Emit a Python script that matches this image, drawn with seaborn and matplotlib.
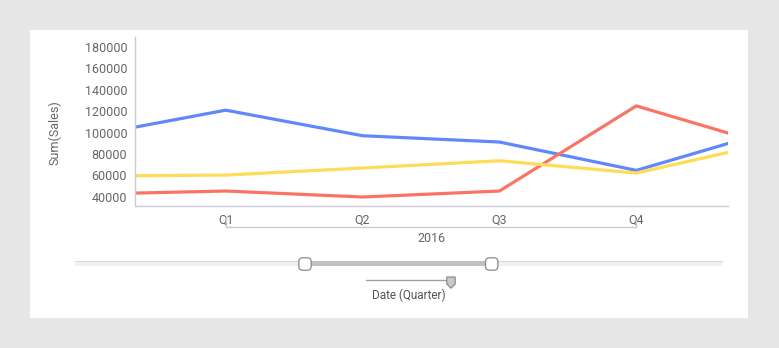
import matplotlib
matplotlib.use("Agg")
import matplotlib.pyplot as plt
import seaborn as sns
import pandas as pd
from matplotlib.patches import Rectangle, FancyBboxPatch, Polygon
from matplotlib.lines import Line2D
from matplotlib.transforms import blended_transform_factory

# ---------------- data ----------------
quarter_pos = [0, 1, 2, 3, 4, 5]          # Q4 2015 .. Q1 2017 (outer two clipped by the view)
tick_pos = [1, 2, 3, 4]
tick_labels = ["Q1", "Q2", "Q3", "Q4"]
year_label = "2016"
series_names = ["Blue", "Red", "Yellow"]
blue_sales = [96900, 120900, 97000, 91100, 64600, 102100]
red_sales = [42400, 45300, 39700, 45300, 124900, 87000]
yellow_sales = [59300, 60200, 66800, 73600, 62100, 90900]
y_ticks = [40000, 60000, 80000, 100000, 120000, 140000, 160000, 180000]
colors = ["#6088fb", "#fa7466", "#fddd55"]

rows = []
for name, vals in zip(series_names, [blue_sales, red_sales, yellow_sales]):
    for p, v in zip(quarter_pos, vals):
        rows.append({"pos": p, "sales": v, "series": name})
df = pd.DataFrame(rows)

# ---------------- figure ----------------
sns.set_theme(style="white")
plt.rcParams["font.family"] = ["Roboto", "DejaVu Sans"]

W, H = 779, 348
fig = plt.figure(figsize=(W / 100, H / 100), dpi=100, facecolor="#e6e6e6")

def fx(px):
    return px / W

def fy(py):
    return 1 - py / H

fig.add_artist(Rectangle((fx(30), fy(318)), fx(748) - fx(30), fy(30) - fy(318),
                         transform=fig.transFigure, facecolor="white",
                         edgecolor="none", zorder=0))

ax = fig.add_axes([fx(134.7), fy(206), fx(728.3) - fx(134.7), fy(37) - fy(206)])
ax.set_facecolor("white")

sns.lineplot(data=df, x="pos", y="sales", hue="series", palette=colors,
             hue_order=series_names, linewidth=2.3, legend=False, ax=ax,
             estimator=None, sort=False)

ax.set_xlim(0.335, 4.672)
ax.set_ylim(31300, 189300)
ax.set_yticks(y_ticks)
ax.set_yticklabels([str(v) for v in y_ticks])
ax.set_xticks(tick_pos)
ax.set_xticklabels(tick_labels)
ax.set_xlabel("")
ax.set_ylabel("")

axis_col = "#c9cbdb"
for s in ["top", "right"]:
    ax.spines[s].set_visible(False)
for s in ["left", "bottom"]:
    ax.spines[s].set_color(axis_col)
    ax.spines[s].set_linewidth(1.0)
ax.tick_params(axis="both", which="major", length=3.2, width=1.0, color=axis_col,
               labelcolor="#666666", labelsize=9, pad=2.2, direction="out")

fig.text(fx(55), fy(133), "Sum(Sales)", rotation=90, ha="center", va="center",
         fontsize=9, color="#666666")

# year bracket under the quarter labels
bt = blended_transform_factory(ax.transData, fig.transFigure)
ax.add_line(Line2D([tick_pos[0], tick_pos[0], tick_pos[-1], tick_pos[-1]],
                   [fy(218), fy(226.7), fy(226.7), fy(220)],
                   transform=bt, color=axis_col, linewidth=1.0, clip_on=False))
ax.text((tick_pos[0] + tick_pos[-1]) / 2, fy(238), year_label, transform=bt,
        ha="center", va="center", fontsize=9, color="#666666")

# ---------------- range slider ----------------
fig.add_artist(Rectangle((fx(75), fy(265.7)), fx(722) - fx(75), fy(261) - fy(265.7),
                         transform=fig.transFigure, facecolor="#eff0f2",
                         edgecolor="none", zorder=2))
fig.add_artist(Line2D([fx(75), fx(722)], [fy(261.3), fy(261.3)],
                      transform=fig.transFigure, color="#d6d6d6", linewidth=0.7, zorder=2))
fig.add_artist(Rectangle((fx(305), fy(265.5)), fx(492) - fx(305), fy(261.2) - fy(265.5),
                         transform=fig.transFigure, facecolor="#c0c0c0",
                         edgecolor="none", zorder=3))
for cx in [305, 491.7]:
    fig.add_artist(FancyBboxPatch((fx(cx - 6.2), fy(270.2)), fx(12.4), fy(0) - fy(12.4),
                                  boxstyle="round,pad=0,rounding_size=0.005",
                                  transform=fig.transFigure, facecolor="white",
                                  edgecolor="#8a8a8a", linewidth=0.9, zorder=4,
                                  mutation_aspect=W / H))

# small level slider
fig.add_artist(Line2D([fx(366), fx(448)], [fy(280.3), fy(280.3)],
                      transform=fig.transFigure, color="#a0a0a0", linewidth=1.0, zorder=2))
mx = 451
fig.add_artist(Polygon([(fx(mx - 4.2), fy(277)), (fx(mx + 4.2), fy(277)),
                        (fx(mx + 4.2), fy(284)), (fx(mx), fy(288.3)),
                        (fx(mx - 4.2), fy(284))], closed=True,
                       transform=fig.transFigure, facecolor="#c8c8c8",
                       edgecolor="#858585", linewidth=0.8, zorder=4))
fig.text(fx(409), fy(295.5), "Date (Quarter)", ha="center", va="center",
         fontsize=8.5, color="#555555", family=["Roboto", "DejaVu Sans"])

fig.savefig("out.png", dpi=100, facecolor=fig.get_facecolor())
